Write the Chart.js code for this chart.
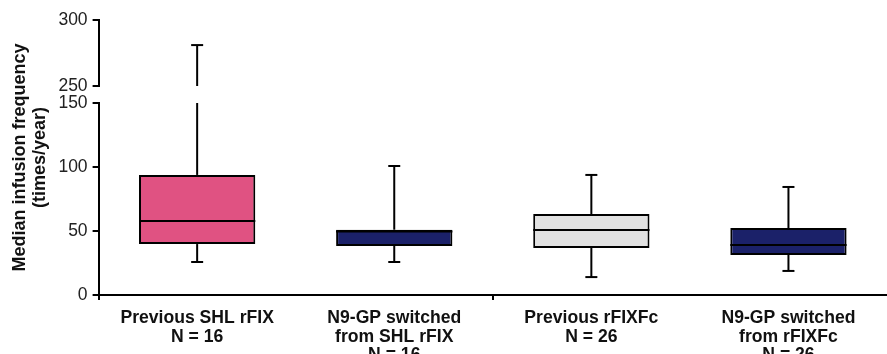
<!DOCTYPE html>
<html lang="en">
<head>
    <meta charset="UTF-8">
    <title>Median infusion frequency</title>
    <script src="https://cdn.jsdelivr.net/npm/chart.js"></script>
    <style>
        body { margin: 0; background: #fff; }
        #wrap { width: 887px; height: 354px; }
    </style>
</head>
<body>
    <div id="wrap">
        <canvas id="myChart"></canvas>
    </div>

    <script>
        // Box plot values (times/year)
        var categories = [
            ['Previous SHL rFIX', 'N = 16'],
            ['N9-GP switched', 'from SHL rFIX', 'N = 16'],
            ['Previous rFIXFc', 'N = 26'],
            ['N9-GP switched', 'from rFIXFc', 'N = 26']
        ];
        var minValues = [25.8, 25.8, 14, 18.8];
        var q1Values = [39.8, 38.3, 36.7, 31.3];
        var medianValues = [57.8, 49.6, 50.8, 39];
        var q3Values = [93.8, 51, 63.3, 52.3];
        var maxValues = [281, 100.8, 93.8, 84.4];
        var boxColors = ['#e05282', '#1b2169', '#e1e1e1', '#1b2169'];

        // broken y axis: lower and upper segments
        var lowerTicks = [0, 50, 100, 150];
        var upperTicks = [250, 300];

        var font = "'Liberation Sans', Arial, Helvetica, sans-serif";

        // whiskers, caps and medians drawn from the scales
        var boxPlotPlugin = {
            id: 'boxPlot',
            beforeDatasetsDraw: function (chart) {
                var ctx = chart.ctx;
                var low = chart.scales.yLow;
                var high = chart.scales.yHigh;
                var bars = chart.getDatasetMeta(0).data;
                ctx.save();
                ctx.strokeStyle = '#000';
                ctx.lineWidth = 2;
                function line(x1, y1, x2, y2) {
                    ctx.beginPath();
                    ctx.moveTo(x1, y1);
                    ctx.lineTo(x2, y2);
                    ctx.stroke();
                }
                bars.forEach(function (bar, i) {
                    var x = bar.x;
                    var capHalf = 6;
                    var topPx;
                    if (maxValues[i] > low.max) {
                        line(x, low.getPixelForValue(q3Values[i]), x, low.getPixelForValue(low.max));
                        topPx = high.getPixelForValue(maxValues[i]);
                        line(x, high.getPixelForValue(high.min), x, topPx);
                    } else {
                        topPx = low.getPixelForValue(maxValues[i]);
                        line(x, low.getPixelForValue(q3Values[i]), x, topPx);
                    }
                    line(x - capHalf, topPx, x + capHalf, topPx);
                    var botPx = low.getPixelForValue(minValues[i]);
                    line(x, low.getPixelForValue(q1Values[i]), x, botPx);
                    line(x - capHalf, botPx, x + capHalf, botPx);
                });
                ctx.restore();
            },
            afterDatasetsDraw: function (chart) {
                var ctx = chart.ctx;
                var low = chart.scales.yLow;
                var bars = chart.getDatasetMeta(0).data;
                ctx.save();
                ctx.strokeStyle = '#000';
                ctx.lineWidth = 2;
                bars.forEach(function (bar, i) {
                    var y = low.getPixelForValue(medianValues[i]);
                    ctx.beginPath();
                    ctx.moveTo(bar.x - bar.width / 2, y);
                    ctx.lineTo(bar.x + bar.width / 2, y);
                    ctx.stroke();
                });
                ctx.restore();
            }
        };

        var ctx = document.getElementById('myChart').getContext('2d');

        var myChart = new Chart(ctx, {
            type: 'bar',
            data: {
                labels: categories,
                datasets: [{
                    label: 'IQR',
                    data: q1Values.map(function (q1, i) { return [q1, q3Values[i]]; }),
                    backgroundColor: boxColors,
                    borderColor: '#000',
                    borderWidth: 2,
                    borderSkipped: false,
                    barPercentage: 0.59,
                    categoryPercentage: 1,
                    yAxisID: 'yLow'
                }]
            },
            options: {
                responsive: true,
                maintainAspectRatio: false,
                animation: false,
                layout: {
                    padding: { top: 20, left: 4, right: 0, bottom: 0 }
                },
                scales: {
                    x: {
                        grid: {
                            drawOnChartArea: false,
                            tickLength: 5,
                            lineWidth: 2,
                            color: function (c) { return c.index % 2 === 0 ? '#000' : 'rgba(0,0,0,0)'; }
                        },
                        border: { color: '#000', width: 2 },
                        ticks: {
                            padding: 9,
                            color: '#111',
                            maxRotation: 0,
                            autoSkip: false,
                            font: { family: font, size: 17.6, weight: 'bold', lineHeight: 1.05 }
                        },
                        afterFit: function (scale) { scale.height = 59; }
                    },
                    yHigh: {
                        type: 'linear',
                        position: 'left',
                        stack: 'y',
                        stackWeight: 66,
                        weight: 2,
                        min: upperTicks[0],
                        max: upperTicks[upperTicks.length - 1],
                        afterBuildTicks: function (scale) {
                            scale.ticks = upperTicks.map(function (v) { return { value: v }; });
                        },
                        grid: { drawOnChartArea: false, tickLength: 6, lineWidth: 2, color: '#000' },
                        border: { color: '#000', width: 2 },
                        ticks: { padding: 5, color: '#222', font: { family: font, size: 17.5 } },
                        afterFit: function (scale) { scale.width = 41; }
                    },
                    yGap: {
                        type: 'linear',
                        position: 'left',
                        stack: 'y',
                        stackWeight: 17,
                        weight: 1,
                        min: 0,
                        max: 1,
                        grid: { display: false },
                        border: { display: false },
                        ticks: { display: false },
                        afterFit: function (scale) { scale.width = 41; }
                    },
                    yLow: {
                        type: 'linear',
                        position: 'left',
                        stack: 'y',
                        stackWeight: 192,
                        weight: 0,
                        min: lowerTicks[0],
                        max: lowerTicks[lowerTicks.length - 1],
                        afterBuildTicks: function (scale) {
                            scale.ticks = lowerTicks.map(function (v) { return { value: v }; });
                        },
                        grid: { drawOnChartArea: false, tickLength: 6, lineWidth: 2, color: '#000' },
                        border: { color: '#000', width: 2 },
                        ticks: { padding: 5, color: '#222', font: { family: font, size: 17.5 } },
                        afterFit: function (scale) { scale.width = 41; }
                    }
                },
                plugins: {
                    legend: { display: false },
                    tooltip: { enabled: false },
                    title: {
                        display: true,
                        position: 'left',
                        fullSize: false,
                        text: ['Median infusion frequency', '(times/year)'],
                        color: '#111',
                        padding: { top: 6, bottom: 8 },
                        font: { family: font, size: 18, weight: 'bold', lineHeight: 1.1 }
                    }
                }
            },
            plugins: [boxPlotPlugin]
        });
    </script>
</body>
</html>
